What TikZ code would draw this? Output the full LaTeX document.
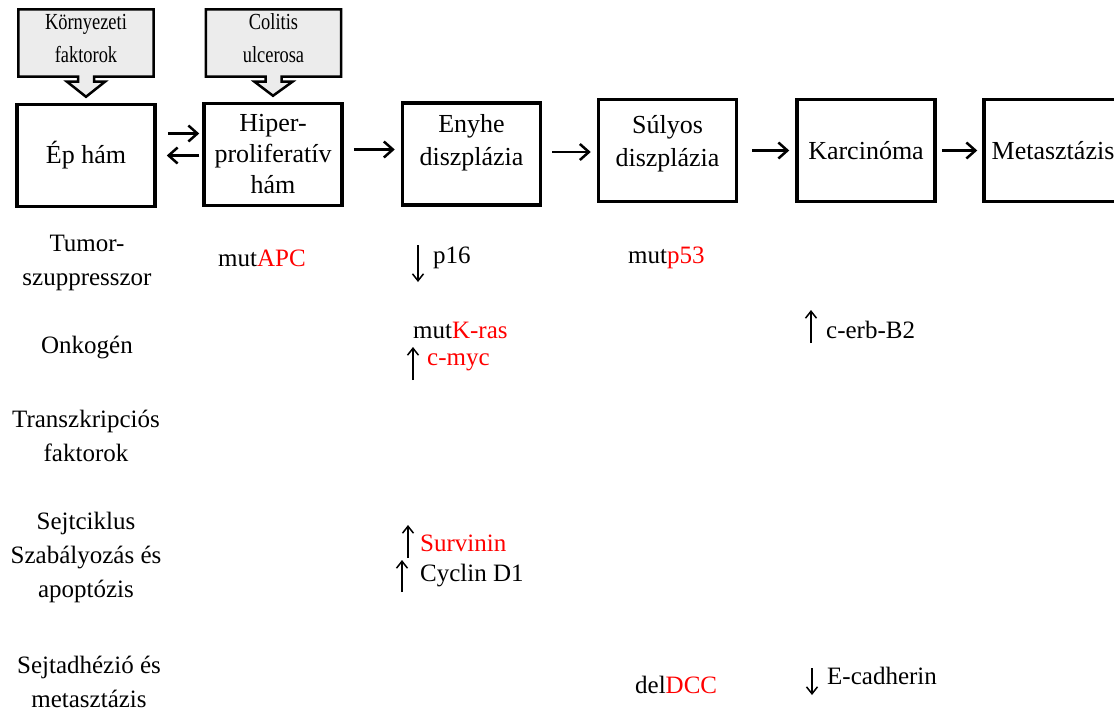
\documentclass[tikz,border=0pt]{standalone}
\usepackage{fontspec}
\setmainfont{Liberation Serif}
\newfontfamily\narrowserif[FakeStretch=0.8]{Liberation Serif}
\usetikzlibrary{arrows.meta,positioning,backgrounds}
\tikzset{
	stage/.style = {draw, line width = 3.5pt, minimum width = 138pt, minimum height = 102pt,
		align = center, font = \fontsize{26}{31}\selectfont},
	callout/.style = {draw, fill = gray!15, line width = 2.5pt},
	calltext/.style = {minimum width = 135pt, minimum height = 67pt},
	callfont/.style = {align = center, yshift = 5pt, font = \narrowserif\fontsize{23}{33}\selectfont},
	flow/.style = {-{Straight Barb[length=9pt,width=16pt]}, line width = 2.5pt,
		shorten <= 10pt, shorten >= 6pt},
	rowlabel/.style = {align = center, font = \fontsize{25}{34}\selectfont},
	gene/.style = {anchor = west, inner sep = 0pt, font = \fontsize{25}{34}\selectfont},
	updown/.style = {-{Straight Barb[length=7pt,width=11pt]}, line width = 1.5pt}
}

\begin{document}
\begin{tikzpicture}[x = 1pt, y = -1pt]
	\path [use as bounding box, clip] (0,0) rectangle (1114,713);

	% stages
	\node [stage] (ep) at (86, 155.5) {\'Ep h\'am};
	\node [stage] (hiper) at (273, 154.5) {Hiper-\\proliferat\'iv\\h\'am};
	\node [stage] (enyhe) at (471.5, 154) {};
	\node [font = \fontsize{26}{33}\selectfont, align = center, yshift = 11pt] (enyhetxt) at (enyhe) {Enyhe\\diszpl\'azia};
	\node [stage] (sulyos) at (667.5, 150.5) {};
	\node [font = \fontsize{26}{33}\selectfont, align = center, yshift = 7pt] (sulyostxt) at (sulyos) {S\'ulyos\\diszpl\'azia};
	\node [stage] (karc) at (866, 150.5) {Karcin\'oma};
	\node [stage] (meta) at (1053, 150.5) {Metaszt\'azis};

	\draw [flow, shorten <= 11pt, shorten >= 3pt] ([yshift = 22pt]ep.east) -- ([yshift = 22pt]ep.east -| hiper.west);
	\draw [flow, shorten <= 3pt, shorten >= 10pt] (hiper.west |- ep.east) -- (ep.east);
	\draw [flow] ([yshift = 5pt]hiper.east) -- ([yshift = 5pt]hiper.east -| enyhe.west);
	\draw [flow] ([yshift = 2pt]enyhe.east) -- ([yshift = 2pt]enyhe.east -| sulyos.west);
	\draw [flow, shorten <= 14pt] (sulyos) -- (karc);
	\draw [flow, shorten <= 5pt, shorten >= 5pt] (karc) -- (meta);

	% callouts
	\node [calltext, label = {[callfont]center:{K\"ornyezeti\\faktorok}}] (korny) at (86, 43) {};
	\node [calltext, label = {[callfont]center:{Colitis\\ulcerosa}}] (colitis) at (273.5, 43) {};
	\begin{scope}[on background layer]
		\foreach \c/\t in {korny/ep, colitis/hiper}{
			\draw [callout] (\c.north west) -- (\c.north east) -- (\c.south east)
				-- ([xshift = 8pt]\c.south) -- ++(0,5) -- ++(11,0)
				-- ([yshift = 6pt]\t.north)
				-- ([xshift = -19pt, yshift = -5pt]\c.south) -- ++(11,0) -- ++(0,-5)
				-- (\c.south west) -- cycle;
		}
	\end{scope}

	% row labels
	\node [rowlabel] (tumor) at (87, 263) {Tumor-\\szuppresszor};
	\node [rowlabel] (onko) at (87, 347) {Onkog\'en};
	\node [rowlabel] (transz) at (86, 436) {Transzkripci\'os\\faktorok};
	\node [rowlabel] (sejtc) at (86, 557) {Sejtciklus\\Szab\'alyoz\'as \'es\\apopt\'ozis};
	\node [rowlabel] (adh) at (89, 682) {Sejtadh\'ezi\'o \'es\\metaszt\'azis};

	% genes
	\node [gene] (apc) at (218, 258) {mut\textcolor{red}{APC}};
	\node [gene] (p16) at (433, 258) {p16};
	\node [gene] (kras) at (413, 330) {mut\textcolor{red}{K-ras}};
	\node [gene, red] (myc) at (427, 362) {c-myc};
	\node [gene] (p53) at (628, 258) {mut\textcolor{red}{p53}};
	\node [gene] (erb) at (826, 330) {c-erb-B2};
	\node [gene, red] (surv) at (420, 543) {Survinin};
	\node [gene] (cyc) at (420, 576) {Cyclin D1};
	\node [gene] (dcc) at (635, 685) {del\textcolor{red}{DCC}};
	\node [gene] (ecad) at (827, 676) {E-cadherin};

	\foreach \nm/\x/\ya/\yb in {p16/418/245/282, myc/413/380/347, erb/811/343/310,
			surv/408/558/525, cyc/402/592/560, ecad/812/668/695}{
		\coordinate (\nm from) at (\x, \ya);
		\coordinate (\nm to) at (\x, \yb);
		\draw [updown] (\nm from) -- (\nm to);
	}
\end{tikzpicture}
\end{document}
